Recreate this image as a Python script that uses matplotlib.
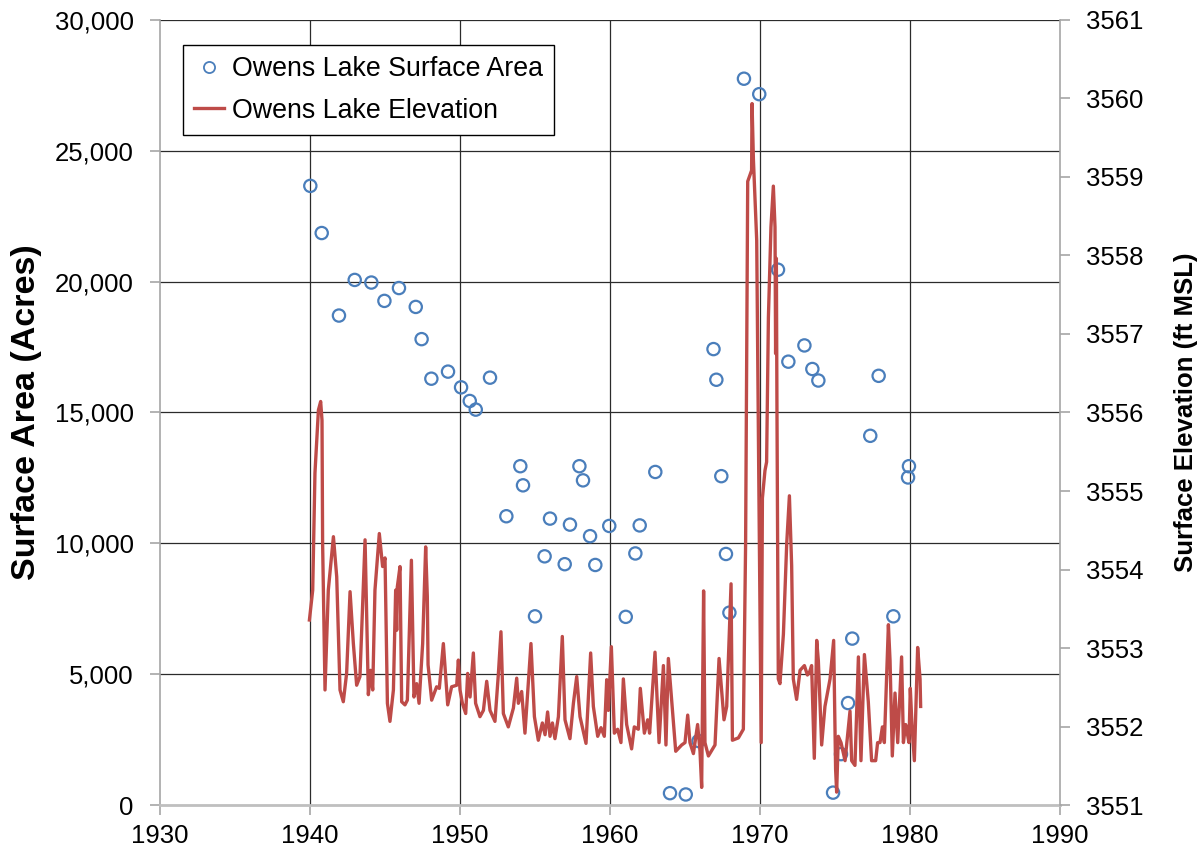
import matplotlib
matplotlib.use("Agg")
import matplotlib.pyplot as plt
from matplotlib.lines import Line2D
from matplotlib.ticker import FuncFormatter

plt.rcParams['font.family'] = ['Liberation Sans', 'DejaVu Sans']

# Owens Lake surface area survey (acres)
area_years = [1940.02, 1940.78, 1941.93, 1942.98, 1944.09, 1944.96, 1945.93, 1947.05,
              1947.44, 1948.09, 1949.20, 1950.07, 1950.65, 1951.05, 1952.00, 1953.09,
              1954.02, 1954.20, 1955.00, 1955.64, 1956.00, 1956.98, 1957.33, 1957.96,
              1958.20, 1958.67, 1959.02, 1959.95, 1961.05, 1961.69, 1961.98, 1963.02,
              1964.00, 1965.05, 1965.90, 1966.90, 1967.09, 1967.42, 1967.73, 1967.96,
              1968.93, 1969.95, 1971.20, 1971.89, 1972.96, 1973.49, 1973.89, 1974.87,
              1975.40, 1975.87, 1976.15, 1977.35, 1977.91, 1978.89, 1979.93, 1979.87]
area_acres = [23650, 21850, 18700, 20060, 19960, 19260, 19750, 19030,
              17800, 16290, 16560, 15960, 15440, 15110, 16330, 11040,
              12950, 12220, 7220, 9510, 10950, 9210, 10720, 12950,
              12410, 10280, 9180, 10670, 7200, 9620, 10690, 12730,
              470, 420, 2460, 17420, 16250, 12570, 9600, 7360,
              27740, 27150, 20450, 16940, 17560, 16660, 16220, 490,
              1960, 3910, 6370, 14110, 16400, 7220, 12950, 12520]

# Owens Lake water surface elevation (ft MSL)
elev_years = [1939.96, 1940.18, 1940.33, 1940.56, 1940.71, 1940.80, 1940.84, 1941.00,
              1941.22, 1941.56, 1941.78, 1942.00, 1942.22, 1942.44, 1942.67, 1942.89,
              1943.11, 1943.33, 1943.67, 1943.89, 1944.04, 1944.18, 1944.33, 1944.62,
              1944.84, 1945.00, 1945.16, 1945.33, 1945.56, 1945.71, 1945.78, 1945.82,
              1946.00, 1946.11, 1946.33, 1946.49, 1946.76, 1946.93, 1947.11, 1947.27,
              1947.51, 1947.71, 1947.82, 1947.87, 1948.11, 1948.44, 1948.62, 1948.89,
              1949.18, 1949.44, 1949.78, 1949.89, 1950.00, 1950.16, 1950.38, 1950.51,
              1950.67, 1950.89, 1951.04, 1951.33, 1951.56, 1951.78, 1952.00, 1952.33,
              1952.56, 1952.73, 1952.89, 1953.22, 1953.56, 1953.78, 1953.89, 1954.11,
              1954.33, 1954.73, 1954.96, 1955.22, 1955.49, 1955.67, 1955.84, 1956.00,
              1956.16, 1956.33, 1956.56, 1956.82, 1957.00, 1957.33, 1957.56, 1957.78,
              1958.00, 1958.40, 1958.71, 1958.89, 1959.18, 1959.40, 1959.62, 1959.78,
              1959.89, 1960.09, 1960.29, 1960.51, 1960.73, 1960.89, 1961.11, 1961.44,
              1961.62, 1961.89, 1962.02, 1962.29, 1962.51, 1962.64, 1963.00, 1963.27,
              1963.56, 1963.73, 1963.89, 1964.38, 1964.78, 1965.00, 1965.18, 1965.33,
              1965.56, 1965.84, 1966.00, 1966.11, 1966.24, 1966.33, 1966.56, 1967.00,
              1967.27, 1967.60, 1967.78, 1968.07, 1968.16, 1968.56, 1968.89, 1969.04,
              1969.18, 1969.44, 1969.47, 1969.56, 1969.78, 1969.93, 1970.08, 1970.16,
              1970.33, 1970.44, 1970.56, 1970.73, 1970.89, 1971.00, 1971.04, 1971.09,
              1971.13, 1971.22, 1971.33, 1971.56, 1971.78, 1971.96, 1972.11, 1972.22,
              1972.44, 1972.67, 1972.96, 1973.16, 1973.29, 1973.44, 1973.62, 1973.78,
              1973.89, 1974.11, 1974.33, 1974.67, 1974.91, 1975.04, 1975.11, 1975.22,
              1975.40, 1975.67, 1976.00, 1976.11, 1976.33, 1976.56, 1976.73, 1976.96,
              1977.22, 1977.44, 1977.71, 1977.84, 1978.00, 1978.16, 1978.29, 1978.56,
              1978.67, 1978.82, 1979.00, 1979.18, 1979.44, 1979.56, 1979.71, 1979.82,
              1979.93, 1980.02, 1980.13, 1980.29, 1980.51, 1980.67, 1980.71]
elev_ft = [3553.36, 3553.74, 3555.23, 3556.03, 3556.14, 3555.90, 3554.34, 3552.47,
           3553.74, 3554.42, 3553.91, 3552.47, 3552.32, 3552.68, 3553.72, 3553.06,
           3552.53, 3552.64, 3554.38, 3552.41, 3552.72, 3552.47, 3553.74, 3554.46,
           3554.04, 3554.15, 3552.30, 3552.07, 3552.47, 3553.74, 3553.23, 3553.78,
           3554.04, 3552.32, 3552.28, 3552.34, 3554.12, 3552.38, 3552.55, 3552.30,
           3553.06, 3554.29, 3553.66, 3552.79, 3552.34, 3552.51, 3552.49, 3553.06,
           3552.28, 3552.51, 3552.53, 3552.85, 3552.47, 3552.30, 3552.17, 3552.68,
           3552.38, 3552.94, 3552.30, 3552.13, 3552.21, 3552.58, 3552.21, 3552.07,
           3552.68, 3553.21, 3552.17, 3552.00, 3552.24, 3552.62, 3552.30, 3552.45,
           3551.92, 3553.06, 3552.13, 3551.83, 3552.05, 3551.90, 3552.19, 3551.88,
           3552.05, 3551.85, 3552.13, 3553.15, 3552.09, 3551.85, 3552.30, 3552.64,
           3552.13, 3551.79, 3552.94, 3552.26, 3551.88, 3551.99, 3551.88, 3552.60,
           3552.21, 3553.02, 3551.92, 3551.97, 3551.80, 3552.61, 3552.03, 3551.72,
           3552.00, 3551.97, 3552.49, 3551.92, 3552.09, 3551.92, 3552.95, 3551.80,
           3552.78, 3551.77, 3552.87, 3551.69, 3551.77, 3551.80, 3552.15, 3551.80,
           3551.66, 3552.03, 3551.69, 3551.23, 3553.73, 3551.80, 3551.63, 3551.77,
           3552.87, 3552.09, 3552.26, 3553.82, 3551.83, 3551.86, 3551.97, 3554.33,
           3558.94, 3559.08, 3559.93, 3559.22, 3558.19, 3554.91, 3551.80, 3554.91,
           3555.26, 3555.37, 3557.21, 3558.36, 3558.88, 3558.36, 3556.75, 3557.96,
           3556.06, 3552.61, 3552.55, 3553.18, 3554.33, 3554.94, 3554.05, 3552.61,
           3552.35, 3552.72, 3552.78, 3552.66, 3552.69, 3552.78, 3551.60, 3553.10,
           3552.84, 3551.77, 3552.26, 3552.61, 3553.10, 3551.46, 3551.17, 3551.88,
           3551.80, 3551.57, 3552.20, 3551.57, 3551.51, 3552.89, 3551.57, 3552.92,
           3552.32, 3551.57, 3551.57, 3551.80, 3551.80, 3552.00, 3551.80, 3553.30,
           3552.84, 3551.63, 3552.43, 3551.80, 3552.89, 3551.80, 3552.03, 3551.92,
           3551.80, 3552.49, 3552.03, 3551.57, 3553.01, 3552.61, 3552.26]

x_ticks = [1930, 1940, 1950, 1960, 1970, 1980, 1990]
area_ticks = [0, 5000, 10000, 15000, 20000, 25000, 30000]
elev_ticks = [3551, 3552, 3553, 3554, 3555, 3556, 3557, 3558, 3559, 3560, 3561]

BLUE = '#4A7EBB'
RED = '#BE4B48'
GRID = '#2b2b2b'
AXIS_GRAY = '#A6A6A6'

fig = plt.figure(figsize=(12.04, 8.52), dpi=100)
ax = fig.add_axes([0.1329, 0.0546, 0.7475, 0.9225])
ax2 = ax.twinx()

# gridlines at interior ticks only, so the frame keeps its own colour
for xv in x_ticks[1:-1]:
    ax.axvline(xv, color=GRID, lw=0.9, zorder=0.5)
for yv in area_ticks[1:]:
    ax.axhline(yv, color=GRID, lw=0.9, zorder=0.5)

ax.scatter(area_years, area_acres, s=78, facecolors='none', edgecolors=BLUE,
           linewidths=1.6, zorder=2)
ax2.plot(elev_years, elev_ft, color=RED, lw=2.4, solid_joinstyle='round', zorder=2)

ax.set_xlim(x_ticks[0], x_ticks[-1])
ax.set_ylim(area_ticks[0], area_ticks[-1])
ax2.set_ylim(elev_ticks[0], elev_ticks[-1])
ax.set_xticks(x_ticks)
ax.set_yticks(area_ticks)
ax2.set_yticks(elev_ticks)
ax.yaxis.set_major_formatter(FuncFormatter(lambda v, p: f"{int(v):,}"))
ax2.yaxis.set_major_formatter(FuncFormatter(lambda v, p: f"{int(v)}"))

for a in (ax, ax2):
    for s in a.spines.values():
        s.set_visible(False)
ax.spines['left'].set_visible(True)
ax.spines['left'].set_color(AXIS_GRAY)
ax.spines['left'].set_linewidth(1.2)
ax.spines['bottom'].set_visible(True)
ax.spines['bottom'].set_color('#BFBFBF')
ax.spines['bottom'].set_linewidth(2.0)
ax2.spines['right'].set_visible(True)
ax2.spines['right'].set_color(AXIS_GRAY)
ax2.spines['right'].set_linewidth(1.2)

ax.tick_params(axis='x', direction='out', length=7, width=1.2, color=AXIS_GRAY,
               labelsize=18.5, pad=6)
ax.tick_params(axis='y', direction='out', length=7, width=1.2, color=AXIS_GRAY,
               labelsize=18.5, pad=12)
ax2.tick_params(axis='y', direction='out', length=7, width=1.2, color=AXIS_GRAY,
                labelsize=18.5, pad=12)

ax.set_ylabel('Surface Area (Acres)', fontsize=24.5, fontweight='bold', va='center')
ax.yaxis.set_label_coords(-0.148, 0.5)
ax2.set_ylabel('Surface Elevation (ft MSL)', fontsize=18.5, fontweight='bold',
               va='center', rotation=90)
ax2.yaxis.set_label_coords(1.14, 0.5)

handles = [
    Line2D([], [], marker='o', linestyle='none', markerfacecolor='none',
           markeredgecolor=BLUE, markeredgewidth=1.3, markersize=8),
    Line2D([], [], color=RED, lw=2.4),
]
leg = ax2.legend(handles, ['Owens Lake Surface Area', 'Owens Lake Elevation'],
                 loc='upper left', bbox_to_anchor=(0.0256, 0.9676), borderaxespad=0,
                 fontsize=19.3, frameon=True, fancybox=False, framealpha=1,
                 edgecolor='black', handlelength=1.1, handletextpad=0.3,
                 labelspacing=0.57, borderpad=0.42)
leg.get_frame().set_linewidth(1.0)

fig.savefig('out.png', dpi=100)
